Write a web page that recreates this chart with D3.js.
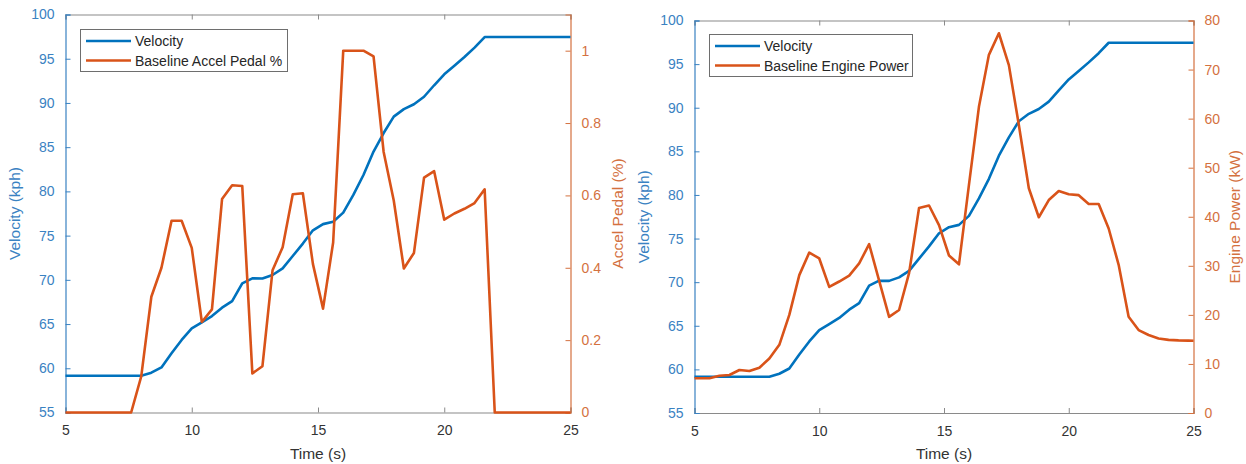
<!DOCTYPE html>
<html>
<head>
<meta charset="utf-8">
<script src="https://cdn.jsdelivr.net/npm/d3@7/dist/d3.min.js"></script>
<style>
  html, body { margin: 0; padding: 0; background: #fff; }
  svg { display: block; font-family: "Liberation Sans", Arial, Helvetica, sans-serif; }
</style>
</head>
<body>
<svg id="chart" width="1246" height="464"></svg>
<script>
// Sample times (s)
const time = [4.8, 5.2, 5.6, 6.0, 6.4, 6.8, 7.2, 7.6, 8.0, 8.4, 8.8, 9.2, 9.6,
  10.0, 10.4, 10.8, 11.2, 11.6, 12.0, 12.4, 12.8, 13.2, 13.6, 14.0, 14.4, 14.8,
  15.2, 15.6, 16.0, 16.4, 16.8, 17.2, 17.6, 18.0, 18.4, 18.8, 19.2, 19.6, 20.0,
  20.4, 20.8, 21.2, 21.6, 22.0, 22.4, 22.8, 23.2, 23.6, 24.0, 24.4, 24.8, 25.2];

// Vehicle velocity (kph)
const velocity = [59.16, 59.16, 59.16, 59.16, 59.16, 59.16, 59.16, 59.16, 59.16,
  59.5, 60.1, 61.7, 63.2, 64.5, 65.2, 65.9, 66.85, 67.6, 69.6, 70.17, 70.15,
  70.55, 71.3, 72.7, 74.1, 75.6, 76.3, 76.57, 77.6, 79.6, 81.85, 84.5, 86.6,
  88.45, 89.3, 89.85, 90.7, 92.0, 93.24, 94.2, 95.2, 96.25, 97.45,
  97.45, 97.45, 97.45, 97.45, 97.45, 97.45, 97.45, 97.45, 97.45];

// Baseline accelerator pedal position (fraction)
const accelPedal = [0, 0, 0, 0, 0, 0, 0, 0,
  0.10, 0.32, 0.40, 0.53, 0.53, 0.455, 0.25, 0.285, 0.59, 0.628, 0.626, 0.108,
  0.128, 0.393, 0.457, 0.603, 0.606, 0.41, 0.287, 0.47, 1.0, 1.0, 1.0, 0.984,
  0.72, 0.586, 0.398, 0.441, 0.649, 0.667, 0.533, 0.55, 0.563, 0.579, 0.617,
  0, 0, 0, 0, 0, 0, 0, 0, 0];

// Baseline engine power (kW)
const enginePower = [7.07, 7.07, 7.07, 7.6, 7.75, 8.76, 8.56, 9.24, 11.1, 13.9,
  20.0, 28.1, 32.7, 31.5, 25.7, 26.8, 28.0, 30.5, 34.4, 27.0, 19.6, 21.0, 28.5,
  41.8, 42.3, 38.3, 32.1, 30.3, 46.5, 62.4, 73.0, 77.4, 70.9, 58.7, 45.8, 39.9,
  43.4, 45.25, 44.6, 44.4, 42.6, 42.6, 37.6, 30.2, 19.6, 16.9, 15.9, 15.2, 14.9,
  14.8, 14.75, 14.7];

// Axis ticks
const xTicks = [5, 10, 15, 20, 25];
const velocityTicks = [55, 60, 65, 70, 75, 80, 85, 90, 95, 100];
const pedalTicks = [0, 0.2, 0.4, 0.6, 0.8, 1];
const powerTicks = [0, 10, 20, 30, 40, 50, 60, 70, 80];

const BLUE = "#0072BD";
const ORANGE = "#D95319";
const BLUE_AXIS = "#3a82c2";
const ORANGE_AXIS = "#d4713f";
const GRAY = "#8a8a8a";

const svg = d3.select("#chart");

function drawPanel(p) {
  const g = svg.append("g");
  const x = d3.scaleLinear().domain([5, 25]).range([p.left, p.right]);
  const yL = d3.scaleLinear().domain([55, 100]).range([p.bottom, p.top]);
  const yR = d3.scaleLinear().domain(p.rightDomain).range([p.bottom, p.top]);

  const clipId = "clip-" + p.id;
  svg.append("clipPath").attr("id", clipId)
    .append("rect")
    .attr("x", p.left).attr("y", p.top - 2)
    .attr("width", p.right - p.left).attr("height", p.bottom - p.top + 4);

  const tickLen = 5;

  // bottom axis (ticks inward)
  const bottomAxis = d3.axisBottom(x).tickValues(xTicks).tickSize(-tickLen)
    .tickPadding(13).tickFormat(d3.format("d"));
  const gb = g.append("g").attr("transform", `translate(0,${p.bottom})`).call(bottomAxis);
  gb.select(".domain").attr("stroke", GRAY).attr("stroke-width", 1.2);
  gb.selectAll(".tick line").attr("stroke", GRAY);
  gb.selectAll(".tick text").attr("fill", "#333").attr("font-size", 14)
    .attr("font-family", "Liberation Sans, Arial, sans-serif");

  // top axis (ticks inward, no labels)
  const topAxis = d3.axisTop(x).tickValues(xTicks).tickSize(-tickLen).tickFormat("");
  const gt = g.append("g").attr("transform", `translate(0,${p.top})`).call(topAxis);
  gt.select(".domain").attr("stroke", GRAY).attr("stroke-width", 1.2);
  gt.selectAll(".tick line").attr("stroke", GRAY);

  // left axis: velocity
  const leftAxis = d3.axisLeft(yL).tickValues(velocityTicks).tickSize(-tickLen)
    .tickPadding(11).tickFormat(d3.format("d"));
  const gl = g.append("g").attr("transform", `translate(${p.left},0)`).call(leftAxis);
  gl.select(".domain").attr("stroke", BLUE_AXIS).attr("stroke-width", 1.2);
  gl.selectAll(".tick line").attr("stroke", BLUE_AXIS);
  gl.selectAll(".tick text").attr("fill", BLUE_AXIS).attr("font-size", 14)
    .attr("font-family", "Liberation Sans, Arial, sans-serif");

  // right axis
  const rightAxis = d3.axisRight(yR).tickValues(p.rightTicks).tickSize(-tickLen)
    .tickPadding(11).tickFormat(p.rightFormat);
  const gr = g.append("g").attr("transform", `translate(${p.right},0)`).call(rightAxis);
  gr.select(".domain").attr("stroke", ORANGE_AXIS).attr("stroke-width", 1.2);
  gr.selectAll(".tick line").attr("stroke", ORANGE_AXIS);
  gr.selectAll(".tick text").attr("fill", ORANGE_AXIS).attr("font-size", 14)
    .attr("font-family", "Liberation Sans, Arial, sans-serif");

  // axis titles
  const midY = (p.top + p.bottom) / 2;
  g.append("text").attr("transform", `translate(${p.left - 46},${midY}) rotate(-90)`)
    .attr("text-anchor", "middle").attr("fill", BLUE_AXIS).attr("font-size", 15.5)
    .text("Velocity (kph)");
  g.append("text").attr("transform", `translate(${p.right + p.rightTitleOffset},${midY}) rotate(-90)`)
    .attr("text-anchor", "middle").attr("fill", ORANGE_AXIS).attr("font-size", 15.5)
    .text(p.rightTitle);
  g.append("text").attr("x", (p.left + p.right) / 2).attr("y", p.bottom + 46)
    .attr("text-anchor", "middle").attr("fill", "#333").attr("font-size", 15.5)
    .text("Time (s)");

  // series lines
  const lineL = d3.line().x((d, i) => x(time[i])).y(d => yL(d));
  const lineR = d3.line().x((d, i) => x(time[i])).y(d => yR(d));
  const lines = g.append("g").attr("clip-path", `url(#${clipId})`);
  lines.append("path").datum(velocity).attr("d", lineL)
    .attr("fill", "none").attr("stroke", BLUE).attr("stroke-width", 2.6)
    .attr("stroke-linejoin", "round");
  lines.append("path").datum(p.rightData).attr("d", lineR)
    .attr("fill", "none").attr("stroke", ORANGE).attr("stroke-width", 2.6)
    .attr("stroke-linejoin", "round");

  // legend
  const lg = g.append("g").attr("transform", `translate(${p.legend.x},${p.legend.y})`);
  lg.append("rect").attr("x", 0).attr("y", 0)
    .attr("width", p.legend.w).attr("height", 42)
    .attr("fill", "#fff").attr("stroke", "#6e6e6e").attr("stroke-width", 1);
  const entries = [
    { label: "Velocity", color: BLUE },
    { label: p.legendLabel, color: ORANGE }
  ];
  entries.forEach((e, i) => {
    const cy = 11.5 + i * 19.5;
    lg.append("line").attr("x1", 5.5).attr("x2", 50.5).attr("y1", cy).attr("y2", cy)
      .attr("stroke", e.color).attr("stroke-width", 2.6);
    lg.append("text").attr("x", 54.5).attr("y", cy + 5).attr("fill", "#262626")
      .attr("font-size", 14).text(e.label);
  });
}

drawPanel({
  id: "pedal", left: 65.5, right: 570.5, top: 14.5, bottom: 412.5,
  rightDomain: [0, 1.1], rightTicks: pedalTicks, rightFormat: d3.format("~g"),
  rightData: accelPedal, rightTitle: "Accel Pedal (%)", rightTitleOffset: 52,
  legendLabel: "Baseline Accel Pedal %",
  legend: { x: 80.5, y: 29.5, w: 207 }
});

drawPanel({
  id: "power", left: 694.5, right: 1193.5, top: 20.5, bottom: 413,
  rightDomain: [0, 80], rightTicks: powerTicks, rightFormat: d3.format("d"),
  rightData: enginePower, rightTitle: "Engine Power (kW)", rightTitleOffset: 46,
  legendLabel: "Baseline Engine Power",
  legend: { x: 709.5, y: 34.5, w: 203 }
});
</script>
</body>
</html>
